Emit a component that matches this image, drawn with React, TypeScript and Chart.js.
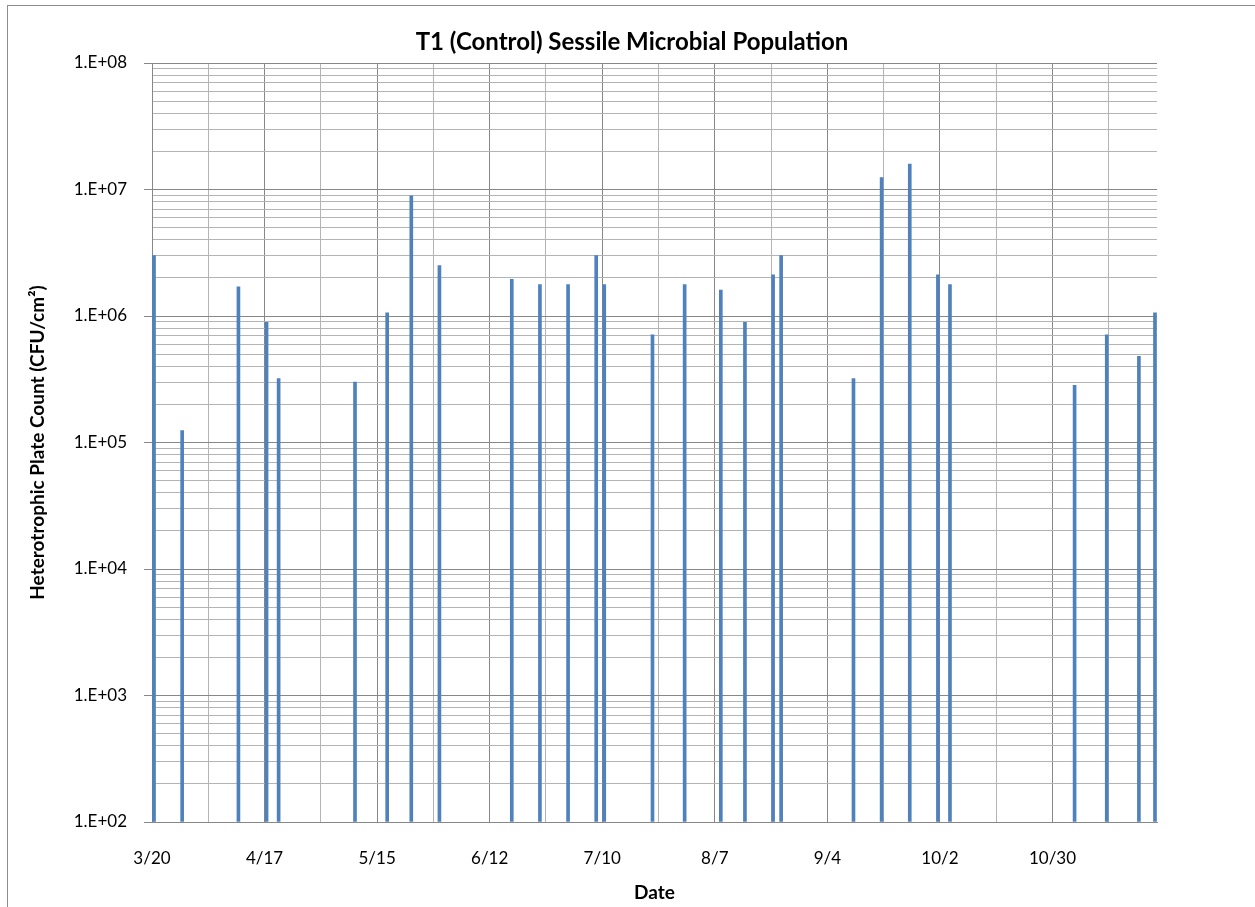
import React, { useEffect, useRef } from "react";
import { Chart, registerables } from "chart.js";

Chart.register(...registerables);

const YEAR = 2013;
const chartTitle = "T1 (Control) Sessile Microbial Population";
const xAxisTitle = "Date";
const yAxisTitle = "Heterotrophic Plate Count (CFU/cm²)";

const sampleDates = [
  "3/20", "3/27", "4/10", "4/17", "4/20", "5/9", "5/17", "5/23", "5/30",
  "6/17", "6/24", "7/1", "7/8", "7/10", "7/22", "7/30", "8/8", "8/14",
  "8/21", "8/23", "9/10", "9/17", "9/24", "10/1", "10/4", "11/4", "11/12",
  "11/20", "11/24",
];
const plateCounts = [
  3.0e6, 1.24e5, 1.7e6, 8.9e5, 3.2e5, 3.0e5, 1.06e6, 8.9e6, 2.5e6,
  1.95e6, 1.77e6, 1.77e6, 3.0e6, 1.77e6, 7.1e5, 1.77e6, 1.6e6, 8.9e5,
  2.12e6, 3.0e6, 3.2e5, 1.24e7, 1.59e7, 2.12e6, 1.77e6, 2.83e5, 7.1e5,
  4.8e5, 1.06e6,
];

const axisStartDate = "3/20";
const axisEndDate = "11/25";
const xTickLabels = ["3/20", "4/17", "5/15", "6/12", "7/10", "8/7", "9/4", "10/2", "10/30"];
const xMinorStepDays = 14;

const yMin = 1e2;
const yMax = 1e8;
const yDecadeExponents = [2, 3, 4, 5, 6, 7, 8];
const yTickLabels = ["1.E+02", "1.E+03", "1.E+04", "1.E+05", "1.E+06", "1.E+07", "1.E+08"];
const yMinorMultipliers = [2, 3, 4, 5, 6, 7, 8, 9];

const FONT = "Lato, 'Open Sans', sans-serif";
const BAR_COLOR = "#4F81BD";
const MAJOR_GRID = "#878787";
const MINOR_GRID = "#B4B4B4";

function dayOf(md: string): number {
  const [m, d] = md.split("/").map(Number);
  const [m0, d0] = axisStartDate.split("/").map(Number);
  return Math.round((Date.UTC(YEAR, m - 1, d) - Date.UTC(YEAR, m0 - 1, d0)) / 86400000);
}

export default function App() {
  const canvasRef = useRef<HTMLCanvasElement | null>(null);

  useEffect(() => {
    const canvas = canvasRef.current;
    if (!canvas) return;

    const endDay = dayOf(axisEndDate);
    const majorDays = xTickLabels.map(dayOf);
    const minorDays = majorDays.map((d) => d + xMinorStepDays).filter((d) => d < endDay);
    const xTickValues = [...majorDays, ...minorDays].sort((a, b) => a - b);
    const xLabelMap: Record<number, string> = {};
    majorDays.forEach((d, i) => (xLabelMap[d] = xTickLabels[i]));

    const yTickValues: number[] = [];
    const yLabelMap: Record<string, string> = {};
    yDecadeExponents.forEach((e, i) => {
      const v = Math.pow(10, e);
      yTickValues.push(v);
      yLabelMap[String(v)] = yTickLabels[i];
      if (v < yMax) yMinorMultipliers.forEach((k) => yTickValues.push(k * v));
    });
    yTickValues.sort((a, b) => a - b);
    const isDecade = (v: number) => yLabelMap[String(v)] !== undefined;

    const points = sampleDates.map((d, i) => ({ x: dayOf(d) + 0.5, y: plateCounts[i] }));

    const framePlugin = {
      id: "frameAndTitle",
      beforeDraw(chart: any) {
        const ctx = chart.ctx;
        ctx.save();
        ctx.fillStyle = "#ffffff";
        ctx.fillRect(0, 0, chart.width, chart.height);
        ctx.strokeStyle = "#8C8C8C";
        ctx.lineWidth = 1;
        ctx.strokeRect(7.5, 5.5, chart.width + 20, chart.height + 20);
        ctx.restore();
      },
      afterDraw(chart: any) {
        const ctx = chart.ctx;
        ctx.save();
        ctx.fillStyle = "#000000";
        ctx.font = `bold 24px ${FONT}`;
        ctx.textAlign = "center";
        ctx.textBaseline = "alphabetic";
        ctx.fillText(chartTitle, 632, 50);
        ctx.restore();
      },
    };

    const chart = new Chart(canvas, {
      type: "bar",
      data: {
        datasets: [
          {
            data: points as any,
            backgroundColor: BAR_COLOR,
            borderWidth: 0,
            barThickness: 3,
            base: yMin,
          } as any,
        ],
      },
      options: {
        responsive: false,
        animation: false,
        devicePixelRatio: 1,
        layout: { padding: { top: 63, right: 98, left: 0, bottom: 0 } },
        plugins: {
          legend: { display: false },
          tooltip: { enabled: false },
          title: { display: false },
        },
        scales: {
          x: {
            type: "linear",
            min: 0,
            max: endDay,
            offset: false,
            afterBuildTicks: (scale: any) => {
              scale.ticks = xTickValues.map((v) => ({ value: v }));
            },
            afterFit: (scale: any) => {
              scale.height = 85;
            },
            ticks: {
              autoSkip: false,
              maxRotation: 0,
              padding: 26,
              color: "#000000",
              font: { family: FONT, size: 17 },
              callback: (value: any) => xLabelMap[Number(value)] ?? "",
            },
            grid: {
              offset: false,
              drawTicks: false,
              color: (ctx: any) =>
                majorDays.includes(ctx.tick?.value) ? MAJOR_GRID : MINOR_GRID,
              lineWidth: 1,
            },
            border: { color: MAJOR_GRID, width: 1 },
            title: {
              display: true,
              text: xAxisTitle,
              color: "#000000",
              font: { family: FONT, size: 19, weight: "bold" },
              padding: { top: 0, bottom: 3 },
            },
          },
          y: {
            type: "logarithmic",
            min: yMin,
            max: yMax,
            afterBuildTicks: (scale: any) => {
              scale.ticks = yTickValues.map((v) => ({ value: v }));
            },
            afterFit: (scale: any) => {
              scale.width = 152;
            },
            ticks: {
              autoSkip: false,
              padding: 17,
              color: "#000000",
              font: { family: FONT, size: 17 },
              callback: (value: any) => yLabelMap[String(value)] ?? "",
            },
            grid: {
              drawTicks: true,
              tickLength: 8,
              color: (ctx: any) => (isDecade(ctx.tick?.value) ? MAJOR_GRID : MINOR_GRID),
              tickColor: (ctx: any) =>
                isDecade(ctx.tick?.value) ? MAJOR_GRID : "rgba(0,0,0,0)",
              lineWidth: 1,
            },
            border: { color: MAJOR_GRID, width: 1 },
            title: {
              display: true,
              text: yAxisTitle,
              color: "#000000",
              font: { family: FONT, size: 19, weight: "bold" },
              padding: { top: 26, bottom: 0 },
            },
          },
        },
      } as any,
      plugins: [framePlugin],
    });

    return () => chart.destroy();
  }, []);

  return (
    <div style={{ position: "absolute", left: 0, top: 0, width: 1255, height: 907, background: "#fff" }}>
      <canvas ref={canvasRef} width={1255} height={907} style={{ display: "block" }} />
    </div>
  );
}
